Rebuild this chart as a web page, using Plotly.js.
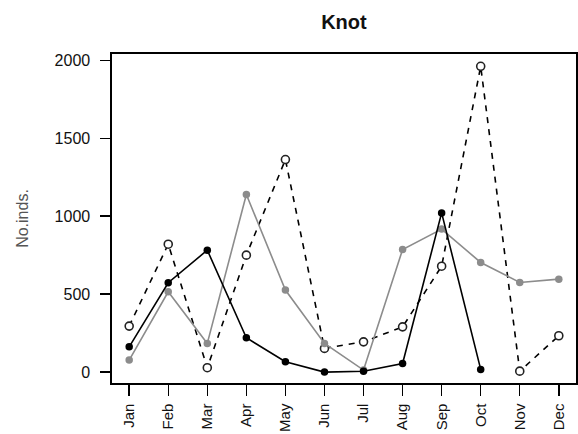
<!DOCTYPE html>
<html>
<head>
<meta charset="utf-8">
<script src="https://cdn.plot.ly/plotly-3.0.1.min.js"></script>
<style>html,body{margin:0;padding:0;background:#fff;}#chart{width:578px;height:434px;}</style>
</head>
<body>
<div id="chart"></div>
<script>
const months = ["Jan","Feb","Mar","Apr","May","Jun","Jul","Aug","Sep","Oct","Nov","Dec"];
const monthIndex = [1,2,3,4,5,6,7,8,9,10,11,12];
const seriesBlack = [162, 573, 782, 220, 66, 0, 5, 55, 1021, 17, null, null];
const seriesGray = [77, 515, 184, 1139, 526, 184, 13, 786, 917, 703, 575, 596];
const seriesOpen = [295, 820, 28, 750, 1363, 152, 194, 290, 679, 1961, 6, 233];
const yTicks = [0, 500, 1000, 1500, 2000];

const fam = "Liberation Sans, Arial, sans-serif";
const tickFont = {family: fam, size: 16, color: "#111"};
const monthFont = {family: fam, size: 15, color: "#111"};

const traces = [
  {x: monthIndex, y: seriesOpen, mode: "lines+markers", type: "scatter",
   line: {color: "#000", width: 1.6, dash: "6px,6px"},
   marker: {symbol: "circle", size: 8, color: "#fff", line: {color: "#222", width: 1.6}}},
  {x: monthIndex, y: seriesGray, mode: "lines+markers", type: "scatter",
   line: {color: "#8c8c8c", width: 1.6},
   marker: {symbol: "circle", size: 7.5, color: "#8c8c8c"}},
  {x: monthIndex, y: seriesBlack, mode: "lines+markers", type: "scatter",
   line: {color: "#000", width: 1.6},
   marker: {symbol: "circle", size: 7.5, color: "#000"}}
];

const layout = {
  width: 578, height: 434,
  margin: {l: 112, r: 2, t: 54, b: 51},
  paper_bgcolor: "#fff", plot_bgcolor: "#fff",
  showlegend: false,
  font: tickFont,
  title: {text: "<b>Knot</b>", font: {family: fam, size: 20, color: "#111"},
          x: 0.595, xanchor: "center", y: 0.949, yanchor: "middle"},
  xaxis: {range: [0.56, 12.44], tickmode: "array", tickvals: monthIndex, ticktext: months,
          tickangle: -90, ticks: "outside", ticklen: 11, tickwidth: 1.4, tickcolor: "#000",
          showline: true, mirror: true, linecolor: "#000", linewidth: 1.6,
          showgrid: false, zeroline: false, tickfont: monthFont, ticklabelstandoff: 2, fixedrange: true},
  yaxis: {range: [-70, 2040], tickmode: "array", tickvals: yTicks,
          ticks: "outside", ticklen: 10, tickwidth: 1.4, tickcolor: "#000",
          showline: true, mirror: true, linecolor: "#000", linewidth: 1.6,
          showgrid: false, zeroline: false, tickfont: tickFont, ticklabelstandoff: 7,
          title: {text: "No.inds.", font: {family: fam, size: 16, color: "#555"}, standoff: 22},
          fixedrange: true}
};

Plotly.newPlot("chart", traces, layout, {displayModeBar: false, staticPlot: true});
</script>
</body>
</html>
